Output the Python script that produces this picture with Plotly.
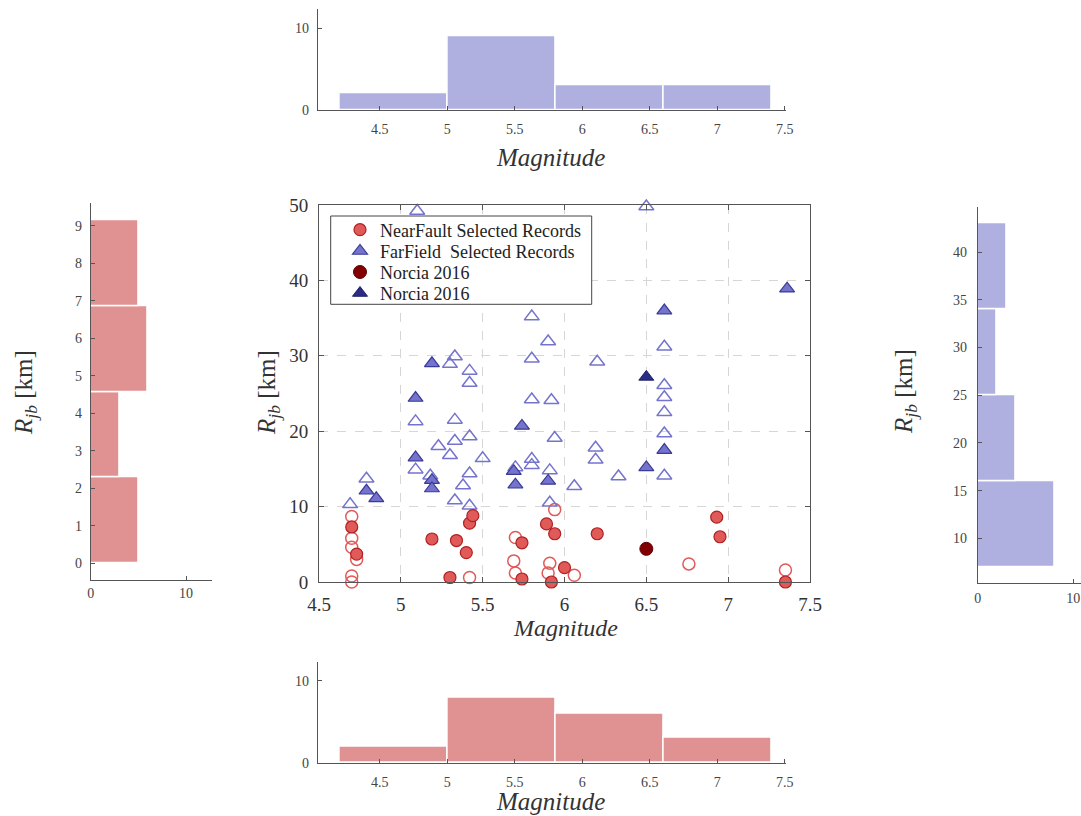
import plotly.graph_objects as go

W, H = 1081, 816

# ---------------- data ----------------
# Near-fault (red circles), selected records (filled)
nf_sel_mag = [4.70, 4.73, 5.19, 5.34, 5.40, 5.42, 5.44, 5.30, 5.74, 5.74, 5.89, 5.94, 5.92, 6.00, 6.20, 6.93, 6.95, 7.35]
nf_sel_rjb = [7.3, 3.7, 5.7, 5.5, 3.9, 7.8, 8.8, 0.6, 5.2, 0.4, 7.7, 6.4, 0.0, 1.9, 6.4, 8.6, 6.0, 0.0]
# Near-fault, other records (hollow)
nf_oth_mag = [4.70, 4.70, 4.70, 4.73, 4.70, 4.70, 5.42, 5.94, 5.70, 5.69, 5.70, 5.91, 5.90, 6.06, 6.76, 7.35]
nf_oth_rjb = [8.7, 5.8, 4.6, 3.0, 0.8, 0.0, 0.6, 9.6, 5.9, 2.8, 1.2, 2.5, 1.2, 0.9, 2.4, 1.6]
# Far-field (blue triangles), selected records (filled)
ff_sel_mag = [4.79, 4.85, 5.09, 5.09, 5.19, 5.19, 5.19, 5.69, 5.70, 5.74, 5.90, 6.50, 6.61, 6.61, 7.36]
ff_sel_rjb = [12.1, 11.1, 24.4, 16.5, 29.0, 13.5, 12.4, 14.7, 12.9, 20.7, 13.4, 15.2, 17.5, 36.0, 38.9]
# Far-field, other records (hollow)
ff_oth_mag = [4.69, 4.79, 5.10, 5.09, 5.09, 5.18, 5.23, 5.30, 5.33, 5.33, 5.33, 5.30, 5.42, 5.42,
              5.42, 5.42, 5.38, 5.33, 5.42, 5.50, 5.80, 5.90, 5.80, 6.20, 5.80, 5.92, 5.94, 5.80,
              5.80, 5.70, 5.91, 5.91, 6.06, 6.19, 6.19, 6.33, 6.50, 6.61, 6.61, 6.61, 6.61, 6.61, 6.61]
ff_oth_rjb = [10.3, 13.7, 49.2, 21.3, 14.9, 14.1, 18.0, 28.9, 29.9, 21.5, 18.7, 16.8, 28.0, 26.4,
              19.3, 14.4, 12.8, 10.8, 10.1, 16.4, 35.2, 31.9, 29.6, 29.2, 24.2, 24.1, 19.1, 16.3,
              15.5, 15.2, 14.8, 10.5, 12.7, 17.8, 16.2, 14.0, 49.8, 31.2, 26.1, 24.5, 22.5, 19.7, 14.1]
# Norcia 2016
norcia_nf_mag, norcia_nf_rjb = [6.50], [4.4]
norcia_ff_mag, norcia_ff_rjb = [6.50], [27.2]

# Histograms (bin edges, counts)
mag_edges = [4.2, 5.0, 5.8, 6.6, 7.4]
ff_mag_counts = [2, 9, 3, 3]
nf_mag_counts = [2, 8, 6, 3]
nf_rjb_edges = [0.0, 2.285, 4.57, 6.855, 9.14]
nf_rjb_counts = [5, 3, 6, 5]
ff_rjb_edges = [7, 16, 25, 34, 43]
ff_rjb_counts = [8, 4, 2, 3]

mag_ticks = [4.5, 5, 5.5, 6, 6.5, 7, 7.5]
mag_ticktext = ["4.5", "5", "5.5", "6", "6.5", "7", "7.5"]

legend_names = ["NearFault Selected Records", "FarField\u00a0\u00a0Selected Records",
                "Norcia 2016", "Norcia 2016"]

# ---------------- styles ----------------
SERIF = "Liberation Serif, Times New Roman, serif"
RED_FILL, RED_EDGE = "#E05A5A", "#B02020"
BLUE_FILL, BLUE_EDGE = "#7474CC", "#3A3A98"
HIST_RED, HIST_BLUE = "#E09292", "#B0B0E0"
AX = "#555555"
TICKC = "#333333"


def px_x(p):
    return p / W


def px_y(p):
    return 1 - p / H


def centers(edges):
    return [(a + b) / 2 for a, b in zip(edges[:-1], edges[1:])]


def widths(edges):
    return [b - a for a, b in zip(edges[:-1], edges[1:])]


fig = go.Figure()

# ---- main scatter ----
fig.add_trace(go.Scatter(x=nf_oth_mag, y=nf_oth_rjb, mode="markers", showlegend=False,
                         marker=dict(symbol="circle-open", size=12, color=RED_FILL, line=dict(width=1.5)),
                         cliponaxis=False, xaxis="x", yaxis="y"))
fig.add_trace(go.Scatter(x=ff_oth_mag, y=ff_oth_rjb, mode="markers", showlegend=False,
                         marker=dict(symbol="triangle-up-open", size=13, color=BLUE_FILL, line=dict(width=1.5)),
                         cliponaxis=False, xaxis="x", yaxis="y"))
fig.add_trace(go.Scatter(x=nf_sel_mag, y=nf_sel_rjb, mode="markers", name=legend_names[0], legend="legend",
                         marker=dict(symbol="circle", size=12, color=RED_FILL, line=dict(width=1.2, color=RED_EDGE)),
                         cliponaxis=False, xaxis="x", yaxis="y"))
fig.add_trace(go.Scatter(x=ff_sel_mag, y=ff_sel_rjb, mode="markers", name=legend_names[1], legend="legend2",
                         marker=dict(symbol="triangle-up", size=13, color=BLUE_FILL, line=dict(width=1.2, color=BLUE_EDGE)),
                         cliponaxis=False, xaxis="x", yaxis="y"))
fig.add_trace(go.Scatter(x=norcia_nf_mag, y=norcia_nf_rjb, mode="markers", name=legend_names[2], legend="legend3",
                         marker=dict(symbol="circle", size=13, color="#820000", line=dict(width=1, color="#600000")),
                         cliponaxis=False, xaxis="x", yaxis="y"))
fig.add_trace(go.Scatter(x=norcia_ff_mag, y=norcia_ff_rjb, mode="markers", name=legend_names[3], legend="legend4",
                         marker=dict(symbol="triangle-up", size=13, color="#2C2C85", line=dict(width=1, color="#1E1E66")),
                         cliponaxis=False, xaxis="x", yaxis="y"))

# ---- histograms ----
fig.add_trace(go.Bar(x=centers(mag_edges), y=ff_mag_counts, width=widths(mag_edges), showlegend=False,
                     marker=dict(color=HIST_BLUE, line=dict(color="white", width=1.5)),
                     xaxis="x2", yaxis="y2"))
fig.add_trace(go.Bar(x=centers(mag_edges), y=nf_mag_counts, width=widths(mag_edges), showlegend=False,
                     marker=dict(color=HIST_RED, line=dict(color="white", width=1.5)),
                     xaxis="x3", yaxis="y3"))
fig.add_trace(go.Bar(y=centers(nf_rjb_edges), x=nf_rjb_counts, width=widths(nf_rjb_edges), orientation="h",
                     showlegend=False, marker=dict(color=HIST_RED, line=dict(color="white", width=1.5)),
                     xaxis="x4", yaxis="y4"))
fig.add_trace(go.Bar(y=centers(ff_rjb_edges), x=ff_rjb_counts, width=widths(ff_rjb_edges), orientation="h",
                     showlegend=False, marker=dict(color=HIST_BLUE, line=dict(color="white", width=1.5)),
                     xaxis="x5", yaxis="y5"))

hist_ax = dict(showline=True, linecolor=AX, linewidth=1, ticks="inside", ticklen=4, tickcolor=AX,
               showgrid=False, zeroline=False, automargin=False,
               tickfont=dict(family=SERIF, size=14, color="#444"))

main_ax = dict(showline=True, linecolor=AX, linewidth=1, mirror="ticks", ticks="inside", ticklen=5,
               tickcolor=AX, showgrid=True, gridcolor="#D6D6D6", griddash="dash", gridwidth=1,
               zeroline=False, automargin=False, tickfont=dict(family=SERIF, size=19, color=TICKC))

leg_common = dict(x=px_x(340), xanchor="left", yanchor="middle", bgcolor="rgba(0,0,0,0)",
                  borderwidth=0, font=dict(family=SERIF, size=18, color="#222"), itemsizing="trace")
leg_rows = [230, 251.3, 272.3, 293.3]

fig.update_layout(
    width=W, height=H,
    margin=dict(l=0, r=0, t=0, b=0, autoexpand=False),
    paper_bgcolor="white", plot_bgcolor="white",
    bargap=0,
    xaxis=dict(main_ax, domain=[px_x(319), px_x(810)], range=[4.5, 7.5],
               tickvals=mag_ticks, ticktext=mag_ticktext, anchor="y", ticklabelstandoff=5),
    yaxis=dict(main_ax, domain=[px_y(582), px_y(205)], range=[0, 50],
               tickvals=[0, 10, 20, 30, 40, 50], anchor="x", ticklabelstandoff=6),
    xaxis2=dict(hist_ax, domain=[px_x(317.7), px_x(786.2)], range=[4.04, 7.51],
                tickvals=mag_ticks, ticktext=mag_ticktext, anchor="y2", ticklabelstandoff=6),
    yaxis2=dict(hist_ax, domain=[px_y(110), px_y(9.3)], range=[0, 12.3], tickvals=[0, 10], anchor="x2",
                ticklabelstandoff=5),
    xaxis3=dict(hist_ax, domain=[px_x(317.7), px_x(786.2)], range=[4.04, 7.51],
                tickvals=mag_ticks, ticktext=mag_ticktext, anchor="y3", ticklabelstandoff=6),
    yaxis3=dict(hist_ax, domain=[px_y(762.7), px_y(661.7)], range=[0, 12.36], tickvals=[0, 10], anchor="x3",
                ticklabelstandoff=5),
    xaxis4=dict(hist_ax, domain=[px_x(90.7), px_x(212.3)], range=[0, 12.76], tickvals=[0, 10], anchor="y4",
                ticklabelstandoff=0),
    yaxis4=dict(hist_ax, domain=[px_y(580), px_y(203.3)], range=[-0.446, 9.605],
                tickvals=list(range(0, 10)), anchor="x4", ticklabelstandoff=5),
    xaxis5=dict(hist_ax, domain=[px_x(977.7), 1.0], range=[0, 10.8], tickvals=[0, 10], anchor="y5",
                ticklabelstandoff=2),
    yaxis5=dict(hist_ax, domain=[px_y(582.7), px_y(207.3)], range=[5.35, 44.7],
                tickvals=[10, 15, 20, 25, 30, 35, 40], anchor="x5", ticklabelstandoff=7),
    legend=dict(leg_common, y=px_y(leg_rows[0])),
    legend2=dict(leg_common, y=px_y(leg_rows[1])),
    legend3=dict(leg_common, y=px_y(leg_rows[2])),
    legend4=dict(leg_common, y=px_y(leg_rows[3])),
)

# legend frame (opaque, like the reference)
fig.add_shape(type="rect", xref="paper", yref="paper", layer="above",
              x0=px_x(330.7), x1=px_x(591.7), y0=px_y(304.3), y1=px_y(216),
              line=dict(color="#444", width=1), fillcolor="white")

annots = [
    dict(text="<i>Magnitude</i>", x=px_x(550), y=px_y(157), size=25),
    dict(text="<i>Magnitude</i>", x=px_x(565), y=px_y(628), size=24),
    dict(text="<i>Magnitude</i>", x=px_x(550), y=px_y(801), size=25),
    dict(text="<i>R<sub>jb</sub></i> [km]", x=px_x(268), y=px_y(393), size=25, textangle=-90),
    dict(text="<i>R<sub>jb</sub></i> [km]", x=px_x(25), y=px_y(393), size=25, textangle=-90),
    dict(text="<i>R<sub>jb</sub></i> [km]", x=px_x(905), y=px_y(392), size=25, textangle=-90),
]
for a in annots:
    size = a.pop("size")
    fig.add_annotation(xref="paper", yref="paper", showarrow=False, xanchor="center", yanchor="middle",
                       font=dict(family=SERIF, size=size, color="#333"), **a)

fig.write_html("out.html", config={"displayModeBar": False},
               post_script="document.body.style.margin='0';document.body.style.overflow='hidden';")
